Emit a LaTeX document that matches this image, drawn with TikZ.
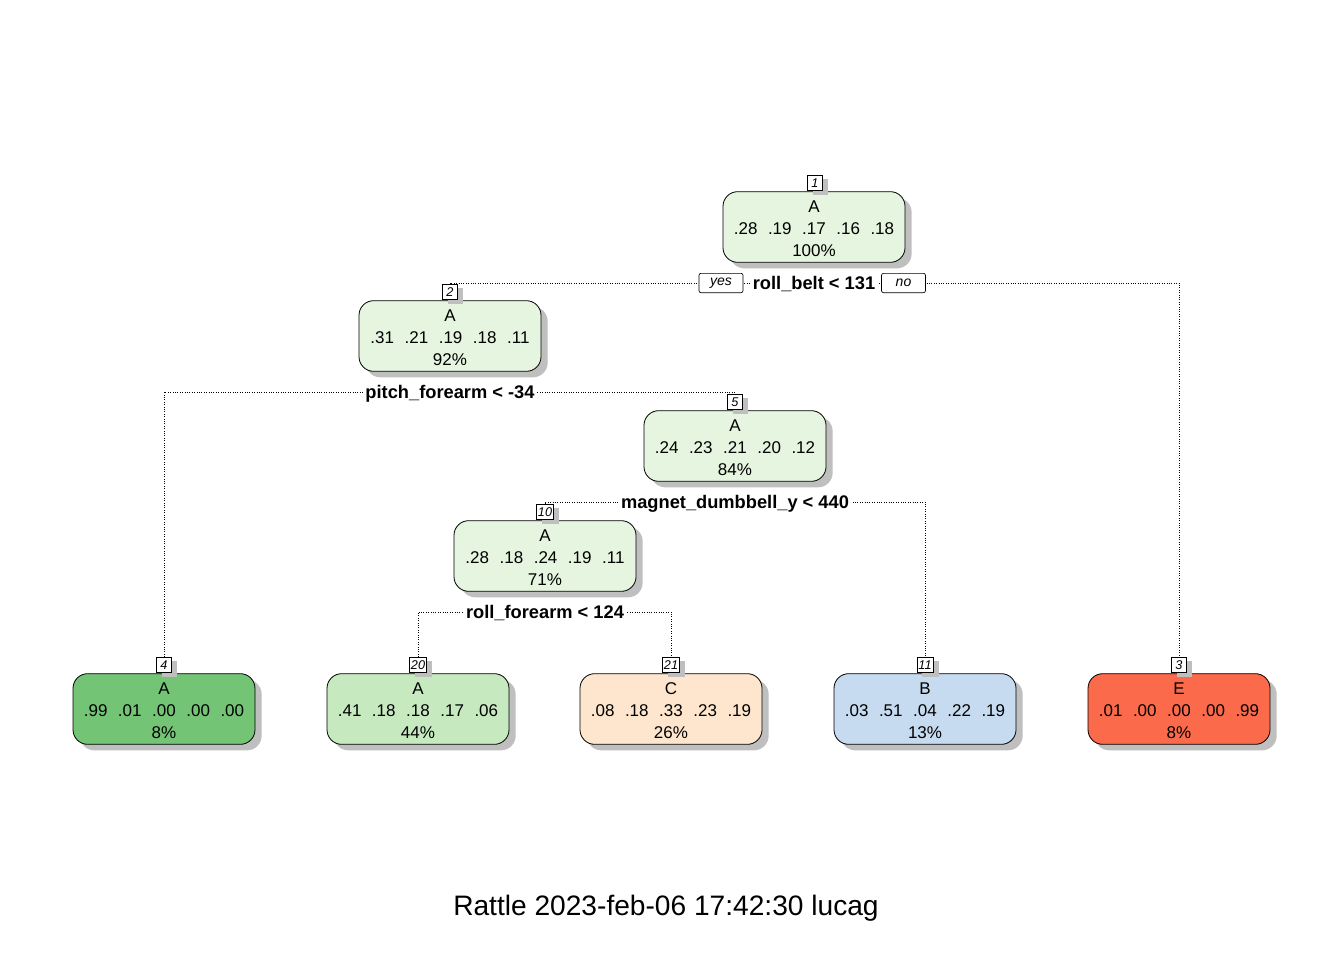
\documentclass[tikz,border=0pt]{standalone}
\usepackage{fontspec}
\setmainfont{Liberation Sans}
\usetikzlibrary{shadows,backgrounds}
\definecolor{cAi}{HTML}{E5F5E0}
\definecolor{cA4}{HTML}{74C476}
\definecolor{cA20}{HTML}{C7E9C0}
\definecolor{cC}{HTML}{FEE6CE}
\definecolor{cB}{HTML}{C6DBEF}
\definecolor{cE}{HTML}{FB6A4A}
\newcommand{\gp}{\hspace{0.62em}}
\tikzset{
  treebox/.style={draw=black, line width=0.6pt, rounded corners=11pt,
    minimum width=136.5pt, minimum height=53pt, inner sep=0pt,
    drop shadow={shadow xshift=5pt, shadow yshift=-4.5pt, fill=black!25, opacity=1}},
  boxtext/.style={align=center, inner sep=0pt, font=\fontsize{12.75}{16.5}\selectfont},
  numlab/.style={draw=black, line width=0.5pt, fill=white, inner sep=1.2pt,
    minimum width=11.25pt, minimum height=11.5pt,
    font=\fontsize{9.5}{10}\selectfont\itshape,
    drop shadow={shadow xshift=4pt, shadow yshift=-3pt, fill=black!25, opacity=1}},
  splitlab/.style={fill=white, inner sep=1.5pt, font=\fontsize{13.7}{15}\selectfont\bfseries},
  splittext/.style={inner sep=0pt, font=\fontsize{13.7}{15}\selectfont\bfseries},
  yesno/.style={draw=black, line width=0.5pt, fill=white, rounded corners=1.5pt,
    minimum width=33pt, minimum height=14.5pt, inner sep=1pt,
    font=\fontsize{10.5}{11}\selectfont\itshape},
  edge/.style={line width=0.5pt, dash pattern=on 0.6pt off 1.2pt}
}
\newcommand{\tbox}[5]{%
  \node[treebox, fill=#4] (#1) at (#2,#3) {};
  \node[boxtext] (#1txt) at ([yshift=-1.5pt]#1.center) {#5};}
\begin{document}
\begin{tikzpicture}[x=0.75pt,y=-0.75pt]
\useasboundingbox (0,0) rectangle (1344,960);
% nodes
\tbox{n1}{814}{227}{cAi}{A\\.28\gp.19\gp.17\gp.16\gp.18\\100\%}
\node[numlab] (n1lab) at (815,183) {1};
\tbox{n2}{450}{336}{cAi}{A\\.31\gp.21\gp.19\gp.18\gp.11\\92\%}
\node[numlab] (n2lab) at (450,292) {2};
\tbox{n5}{735}{446}{cAi}{A\\.24\gp.23\gp.21\gp.20\gp.12\\84\%}
\node[numlab] (n5lab) at (735,402) {5};
\tbox{n10}{545}{556}{cAi}{A\\.28\gp.18\gp.24\gp.19\gp.11\\71\%}
\node[numlab] (n10lab) at (545,512) {10};
% leaves
\tbox{n4}{164}{709}{cA4}{A\\.99\gp.01\gp.00\gp.00\gp.00\\8\%}
\node[numlab] (n4lab) at (164,665) {4};
\tbox{n20}{418}{709}{cA20}{A\\.41\gp.18\gp.18\gp.17\gp.06\\44\%}
\node[numlab] (n20lab) at (418,665) {20};
\tbox{n21}{671}{709}{cC}{C\\.08\gp.18\gp.33\gp.23\gp.19\\26\%}
\node[numlab] (n21lab) at (671,665) {21};
\tbox{n11}{925}{709}{cB}{B\\.03\gp.51\gp.04\gp.22\gp.19\\13\%}
\node[numlab] (n11lab) at (925,665) {11};
\tbox{n3}{1179}{709}{cE}{E\\.01\gp.00\gp.00\gp.00\gp.99\\8\%}
\node[numlab] (n3lab) at (1179,665) {3};
% split labels (white backing node carries the connector, text set 1.5px lower)
\node[splitlab, text opacity=0] (s1) at (814,283) {roll\_belt < 131};
\node[splittext] at ([yshift=-1.1pt]s1.center) {roll\_belt < 131};
\node[yesno] (yes) at (721,283) {yes};
\node[yesno] (no) at (903.5,283) {no};
\node[splitlab, text opacity=0] (s2) at (450,392) {pitch\_forearm < -34};
\node[splittext] at ([yshift=-1.1pt]s2.center) {pitch\_forearm < -34};
\node[splitlab, text opacity=0] (s3) at (735,502) {magnet\_dumbbell\_y < 440};
\node[splittext] at ([yshift=-1.1pt]s3.center) {magnet\_dumbbell\_y < 440};
\node[splitlab, text opacity=0] (s4) at (545,612) {roll\_forearm < 124};
\node[splittext] at ([yshift=-1.1pt]s4.center) {roll\_forearm < 124};
% title
\node[font=\fontsize{21.1}{24}\selectfont] (title) at (666,908.5) {Rattle 2023-feb-06 17:42:30 lucag};
% edges
\begin{pgfonlayer}{background}
\draw[edge] (n2lab.north) |- (s1.center) -| (n3lab.north);
\draw[edge] (n4lab.north) |- (s2.center) -| (n5lab.north);
\draw[edge] (n10lab.north) |- (s3.center) -| (n11lab.north);
\draw[edge] (n20lab.north) |- (s4.center) -| (n21lab.north);
\end{pgfonlayer}
\end{tikzpicture}
\end{document}
